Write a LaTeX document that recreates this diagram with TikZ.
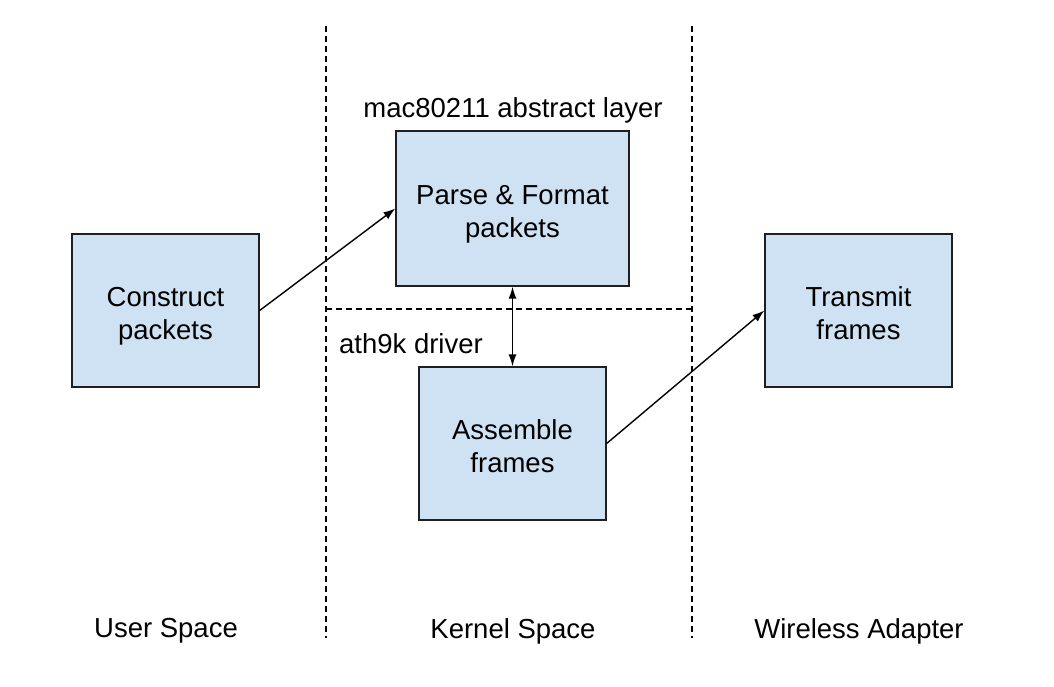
\documentclass[tikz,border=0pt]{standalone}
\usepackage{fontspec}
\setmainfont{Liberation Sans}
\usetikzlibrary{arrows.meta}
\definecolor{boxfill}{HTML}{CFE2F3}
\definecolor{boxline}{HTML}{1F1F1F}
\begin{document}
\begin{tikzpicture}[x=1pt,y=-1pt,
  txt/.style={font=\fontsize{27.5}{33}\selectfont, text=black, align=center, inner sep=0pt},
  procbox/.style={txt, draw=boxline, fill=boxfill, line width=1.3pt, minimum width=#1, text height=58pt, text depth=0pt},
  sep/.style={line width=1.2pt, dash pattern=on 6pt off 4pt},
  conn/.style={line width=1.4pt, -{Latex[length=12pt,width=8.5pt]}},
  conn2/.style={line width=1.4pt, {Latex[length=12pt,width=8pt]}-{Latex[length=12pt,width=8pt]}}]
\useasboundingbox (0,0) rectangle (1054,687);
\fill[white] (0,0) rectangle (1054,687);
% separators
\coordinate (l1t) at (326,26); \coordinate (l1b) at (326,638);
\coordinate (l2t) at (692,26); \coordinate (l2b) at (692,638);
\coordinate (hl) at (326,309); \coordinate (hr) at (692,309);
\draw[sep] (l1t) -- (l1b);
\draw[sep] (l2t) -- (l2b);
\draw[sep] (hl) -- (hr);
% boxes
\node[procbox=187pt, minimum height=153pt] (construct) at (165.5,310.5) {Construct\\packets};
\node[procbox=233pt, minimum height=155pt] (parse) at (512.5,208.5) {Parse \& Format\\packets};
\node[procbox=187pt, minimum height=153pt] (assemble) at (512.5,443.5) {Assemble\\frames};
\node[procbox=187pt, minimum height=153pt] (transmit) at (858.5,310.5) {Transmit\\frames};
% labels
\node[txt] (maclbl) at (513,110) {mac80211 abstract layer};
\node[txt] (athlbl) at (411,344) {ath9k driver};
\node[txt] (user) at (166,631) {User Space};
\node[txt] (kernel) at (513,631) {Kernel Space};
\node[txt] (wireless) at (859,631) {Wireless Adapter};
% connectors
\draw[conn] (construct.east) -- (parse.west);
\draw[conn2] (parse.south) -- (assemble.north);
\draw[conn] (assemble.east) -- (transmit.west);
\end{tikzpicture}
\end{document}
